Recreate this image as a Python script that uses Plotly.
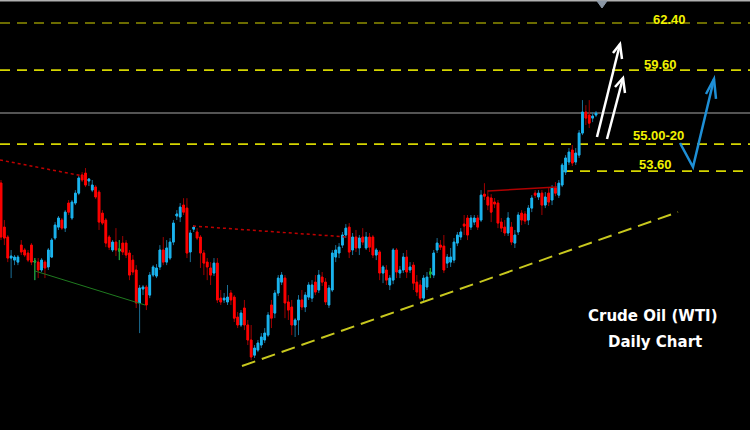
import plotly.graph_objects as go

# ---- data (estimated prices, USD/bbl) ----
open_ = [52.89, 50.27, 49.68, 48.43, 48.31, 48.19, 49.20, 48.91, 48.73, 49.20,
         48.19, 48.19, 47.72, 48.19, 47.90, 48.49, 49.62, 50.27, 50.69, 50.21,
         51.70, 50.81, 51.70, 52.29, 53.37, 53.48, 53.01, 52.47, 52.65, 52.35,
         51.10, 50.69, 49.68, 48.91, 49.38, 48.85, 49.32, 49.32, 48.73, 48.31,
         47.72, 45.76, 46.59, 46.71, 46.23, 47.42, 47.36, 47.90, 48.91, 48.19,
         48.43, 49.38, 50.93, 50.87, 51.58, 51.40, 48.79, 50.15, 49.98, 49.68,
         48.73, 48.19, 47.84, 47.54, 48.13, 46.05, 45.94, 45.82, 46.35, 46.11,
         44.92, 44.45, 45.46, 44.45, 43.56, 42.66, 42.96, 43.26, 43.56, 43.85,
         45.64, 45.16, 46.35, 47.00, 47.24, 45.82, 45.52, 44.45, 44.75, 45.94,
         45.52, 46.11, 46.05, 47.00, 46.53, 47.30, 47.00, 45.64, 46.53, 48.49,
         48.73, 49.20, 49.80, 50.27, 48.91, 49.68, 49.03, 49.68, 49.03, 49.68,
         49.68, 48.61, 48.79, 47.54, 47.72, 46.83, 47.12, 48.91, 47.54, 47.72,
         48.49, 47.72, 48.01, 47.00, 46.83, 46.05, 46.71, 47.48, 47.42, 48.91,
         49.20, 49.14, 48.13, 48.19, 48.31, 49.32, 49.68, 50.45, 50.81, 50.27,
         50.57, 50.81, 50.69, 52.23, 52.06, 52.00, 51.76, 51.70, 50.57, 50.27,
         49.92, 50.27, 49.32, 49.98, 51.10, 51.05, 50.69, 51.40, 52.29, 52.06,
         52.29, 51.58, 52.29, 51.88, 52.59, 52.17, 52.77, 53.54, 54.14, 54.85,
         54.14, 54.55, 55.86, 57.11, 56.93, 56.75, 56.93]

close = [49.68, 49.62, 48.43, 48.55, 48.49, 48.49, 48.79, 48.61, 48.31, 48.19,
         48.25, 47.72, 48.31, 47.84, 48.91, 49.50, 50.39, 50.81, 50.21, 51.16,
         51.16, 51.76, 52.29, 53.19, 53.07, 52.77, 53.13, 52.77, 52.06, 50.57,
         50.51, 49.32, 49.08, 49.38, 48.91, 48.97, 48.79, 48.61, 47.42, 47.60,
         45.76, 46.65, 46.71, 45.64, 47.42, 47.90, 47.84, 48.91, 48.19, 49.03,
         49.38, 50.51, 51.05, 51.46, 51.16, 48.73, 49.92, 50.27, 49.62, 48.73,
         48.13, 47.90, 47.42, 48.13, 45.94, 45.82, 46.05, 46.11, 45.94, 44.86,
         44.45, 45.16, 44.45, 43.56, 42.55, 43.08, 43.38, 43.74, 43.97, 45.04,
         44.86, 46.35, 47.24, 47.42, 45.76, 45.34, 44.45, 44.75, 45.94, 45.52,
         46.23, 46.83, 46.83, 46.41, 47.42, 47.00, 45.82, 46.65, 48.73, 48.91,
         49.08, 49.80, 50.21, 48.79, 49.68, 49.03, 49.62, 49.38, 49.68, 49.08,
         48.61, 48.91, 47.54, 47.90, 47.12, 47.24, 48.91, 47.60, 47.72, 48.49,
         47.60, 47.90, 46.94, 46.41, 46.05, 47.24, 47.30, 47.60, 48.73, 49.32,
         49.08, 47.72, 48.49, 48.49, 49.38, 49.80, 49.98, 50.33, 49.80, 50.81,
         50.81, 50.27, 52.17, 52.11, 51.58, 51.16, 51.64, 50.51, 50.21, 49.92,
         50.81, 49.38, 49.80, 50.99, 50.69, 50.63, 51.40, 52.00, 52.17, 52.29,
         51.58, 52.06, 51.76, 52.59, 52.29, 52.88, 53.96, 54.38, 54.73, 54.08,
         54.67, 55.86, 57.11, 56.75, 56.45, 56.87, 57.05]

high = [53.07, 50.69, 49.80, 48.91, 48.61, 48.61, 49.50, 49.03, 48.91, 49.32,
        48.43, 48.43, 48.43, 48.31, 49.03, 49.62, 50.57, 50.93, 50.81, 51.28,
        51.88, 51.88, 52.47, 53.31, 53.54, 53.78, 53.19, 53.07, 52.77, 52.47,
        51.28, 50.81, 49.80, 49.50, 50.21, 49.50, 49.74, 49.50, 48.91, 48.61,
        48.01, 46.83, 46.83, 46.83, 47.60, 48.01, 48.07, 49.20, 49.68, 49.50,
        49.62, 50.69, 51.28, 51.70, 51.99, 51.99, 50.10, 50.39, 50.21, 49.80,
        48.91, 48.43, 48.19, 48.43, 48.43, 46.53, 46.35, 46.83, 46.53, 46.23,
        45.22, 45.34, 45.94, 44.75, 44.45, 43.26, 43.56, 43.97, 44.27, 45.22,
        45.94, 46.53, 47.42, 47.60, 47.42, 46.23, 45.94, 44.86, 46.23, 46.53,
        46.41, 47.00, 47.12, 47.42, 47.72, 47.60, 47.24, 46.83, 48.91, 49.20,
        49.32, 49.98, 50.45, 50.51, 49.92, 50.10, 49.80, 50.21, 49.98, 49.92,
        49.80, 49.03, 48.91, 48.01, 48.01, 47.42, 49.03, 49.03, 47.96, 48.73,
        48.91, 48.19, 48.19, 47.42, 47.12, 47.42, 47.60, 47.84, 48.91, 49.62,
        49.50, 49.80, 48.67, 49.03, 49.62, 49.98, 50.21, 50.99, 50.99, 50.99,
        50.99, 50.99, 52.47, 52.88, 52.47, 52.23, 52.00, 51.88, 50.81, 50.69,
        51.16, 50.57, 50.10, 51.16, 51.28, 51.22, 51.58, 52.17, 52.47, 52.47,
        52.47, 52.35, 52.59, 52.77, 52.95, 53.07, 54.08, 54.55, 54.97, 55.15,
        54.97, 56.04, 57.82, 57.52, 57.82, 57.11, 57.17]

low = [49.50, 49.20, 48.19, 47.24, 48.01, 48.01, 48.61, 48.49, 48.19, 48.01,
       47.12, 47.24, 47.60, 47.24, 47.72, 48.43, 49.50, 50.10, 50.10, 49.98,
       50.99, 50.69, 51.58, 52.17, 52.95, 52.65, 52.71, 52.35, 51.94, 50.10,
       50.39, 49.08, 48.91, 48.79, 48.55, 48.31, 48.61, 48.43, 47.12, 47.42,
       45.46, 43.97, 46.23, 45.34, 46.05, 47.30, 47.24, 47.72, 48.01, 48.01,
       48.31, 49.20, 50.69, 50.57, 50.99, 48.43, 48.19, 49.98, 49.50, 47.84,
       47.42, 47.12, 46.83, 47.36, 45.76, 45.64, 45.76, 45.64, 45.64, 44.63,
       44.27, 44.33, 44.15, 43.26, 42.37, 42.49, 42.84, 43.08, 43.38, 43.74,
       44.27, 44.86, 46.17, 46.83, 44.86, 44.75, 43.85, 43.74, 43.85, 45.34,
       45.22, 45.94, 45.82, 46.23, 46.35, 46.77, 45.64, 45.46, 46.41, 48.19,
       48.43, 49.03, 49.62, 48.43, 48.61, 48.79, 48.61, 49.20, 48.91, 48.79,
       48.43, 48.31, 47.12, 46.94, 46.83, 46.53, 46.88, 47.24, 47.24, 47.54,
       47.24, 47.54, 46.53, 46.17, 45.94, 45.82, 46.53, 47.24, 47.24, 48.73,
       48.91, 47.54, 47.84, 47.90, 48.13, 49.14, 49.50, 49.80, 49.50, 50.10,
       50.39, 50.10, 50.57, 51.88, 51.28, 50.57, 51.40, 50.21, 49.98, 49.74,
       49.74, 49.20, 49.03, 49.80, 50.39, 50.45, 50.39, 51.16, 52.00, 51.88,
       50.99, 51.40, 51.52, 51.58, 52.11, 52.00, 52.65, 53.37, 53.96, 53.90,
       53.96, 54.38, 55.74, 56.34, 56.16, 56.51, 56.81]

doji_idx = [10, 35, 127]

level_values = [62.40, 59.60, 55.20, 53.60]
level_labels = ["62.40", "59.60", "55.00-20", "53.60"]

title_lines = ["Crude Oil (WTI)", "Daily Chart"]

n = len(close)
assert len(open_) == n and len(high) == n and len(low) == n
x = list(range(n))

W, H = 750, 430


def pp(xp, yp):
    return xp / W, 1 - yp / H


BLUE = "#1ab4ee"
BLUE_WICK = "#1b6f96"
RED = "#ff0000"
RED_WICK = "#a00000"

fig = go.Figure()

# wicks (dark)
fig.add_trace(go.Candlestick(
    x=x, open=open_, high=high, low=low, close=close,
    increasing=dict(line=dict(color=BLUE_WICK, width=1), fillcolor=BLUE_WICK),
    decreasing=dict(line=dict(color=RED_WICK, width=1), fillcolor=RED_WICK),
    whiskerwidth=0, hoverinfo="skip", showlegend=False))

# bodies (bright)
body_hi = [max(o, c) for o, c in zip(open_, close)]
body_lo = [min(o, c) for o, c in zip(open_, close)]
fig.add_trace(go.Candlestick(
    x=x, open=open_, high=body_hi, low=body_lo, close=close,
    increasing=dict(line=dict(color=BLUE, width=1), fillcolor=BLUE),
    decreasing=dict(line=dict(color=RED, width=1), fillcolor=RED),
    whiskerwidth=0, hoverinfo="skip", showlegend=False))

# green doji crosses
fig.add_trace(go.Candlestick(
    x=[x[i] for i in doji_idx],
    open=[open_[i] for i in doji_idx], high=[high[i] for i in doji_idx],
    low=[low[i] for i in doji_idx], close=[close[i] for i in doji_idx],
    increasing=dict(line=dict(color="#1faa1f", width=1), fillcolor="#1faa1f"),
    decreasing=dict(line=dict(color="#1faa1f", width=1), fillcolor="#1faa1f"),
    whiskerwidth=0, hoverinfo="skip", showlegend=False))

shapes = []

# horizontal levels
level_colors = ["#8e8e00", "#d6d600", "#d6d600", "#d6d600"]
level_x0 = [0, 0, 0, 563 / W]
for v, col, x0 in zip(level_values, level_colors, level_x0):
    shapes.append(dict(type="line", xref="paper", yref="y", x0=x0, x1=1, y0=v, y1=v,
                       line=dict(color=col, width=1.6, dash="10px,7px"), layer="below"))

# current price line
shapes.append(dict(type="line", xref="paper", yref="y", x0=0, x1=1, y0=close[-1], y1=close[-1],
                   line=dict(color="#707070", width=1.5), layer="below"))


def seg(p1, p2, color, width, dash="solid"):
    a = pp(*p1)
    b = pp(*p2)
    shapes.append(dict(type="line", xref="paper", yref="paper", x0=a[0], y0=a[1], x1=b[0], y1=b[1],
                       line=dict(color=color, width=width, dash=dash)))


def poly(points, color, width, fill=None):
    pts = [pp(*p) for p in points]
    path = "M " + " L ".join(f"{a:.5f},{b:.5f}" for a, b in pts)
    if fill:
        path += " Z"
    d = dict(type="path", xref="paper", yref="paper", path=path,
             line=dict(color=color, width=width))
    if fill:
        d["fillcolor"] = fill
    shapes.append(d)


# trend lines
seg((0, 160), (83, 176), "#c00000", 1.5, "dot")
seg((193, 226), (347, 237), "#c00000", 1.5, "dot")
seg((35, 271), (145, 305), "#1f7a1f", 1)
seg((488, 191), (557, 187), "#b00000", 1.5)
seg((242, 366), (678, 212), "#c8c81e", 2, "14px,7px")

# top border and marker
seg((0, 0.8), (750, 0.8), "#b0b0b0", 1.5)
poly([(597, 1), (607, 1), (602, 8)], "#8a96a4", 1, fill="#8a96a4")

# white arrows
poly([(597, 137), (620, 44)], "white", 2.5)
poly([(613, 53), (620, 44), (622, 59)], "white", 2.5)
poly([(607, 139), (623, 78)], "white", 2.5)
poly([(615, 87), (623, 78), (625, 93)], "white", 2.5)

# blue V arrow
poly([(680, 143), (693, 167), (714, 79)], "#1e8fd6", 2.5)
poly([(706, 94), (714, 79), (716, 99)], "#1e8fd6", 2.5)

annotations = []
label_pos = [(669, 20), (660, 64), (658, 135), (655, 164)]
for txt, (xp, yp) in zip(level_labels, label_pos):
    ax, ay = pp(xp, yp)
    annotations.append(dict(x=ax, y=ay, xref="paper", yref="paper", text=f"<b>{txt}</b>",
                            showarrow=False, xanchor="center", yanchor="middle",
                            font=dict(family="Liberation Sans, Arial", size=13, color="#f2f200")))

for txt, (xp, yp) in zip(title_lines, [(653, 316), (655, 342)]):
    ax, ay = pp(xp, yp)
    annotations.append(dict(x=ax, y=ay, xref="paper", yref="paper", text=f"<b>{txt}</b>",
                            showarrow=False, xanchor="center", yanchor="middle",
                            font=dict(family="DejaVu Sans", size=15, color="white")))

spacing = 595 / (n - 1)
x_lo = -1 / spacing
x_hi = (W - 1) / spacing

fig.update_layout(
    width=W, height=H,
    margin=dict(l=0, r=0, t=0, b=0),
    paper_bgcolor="black", plot_bgcolor="black",
    showlegend=False,
    xaxis=dict(visible=False, range=[x_lo, x_hi], rangeslider=dict(visible=False), fixedrange=True),
    yaxis=dict(visible=False, range=[38.21, 63.77], fixedrange=True),
    shapes=shapes, annotations=annotations,
)

fig.write_html("out.html", config=dict(displayModeBar=False),
               post_script="document.body.style.margin='0';document.body.style.padding='0';"
                           "document.body.style.background='black';"
                           "document.body.style.overflow='hidden';")
